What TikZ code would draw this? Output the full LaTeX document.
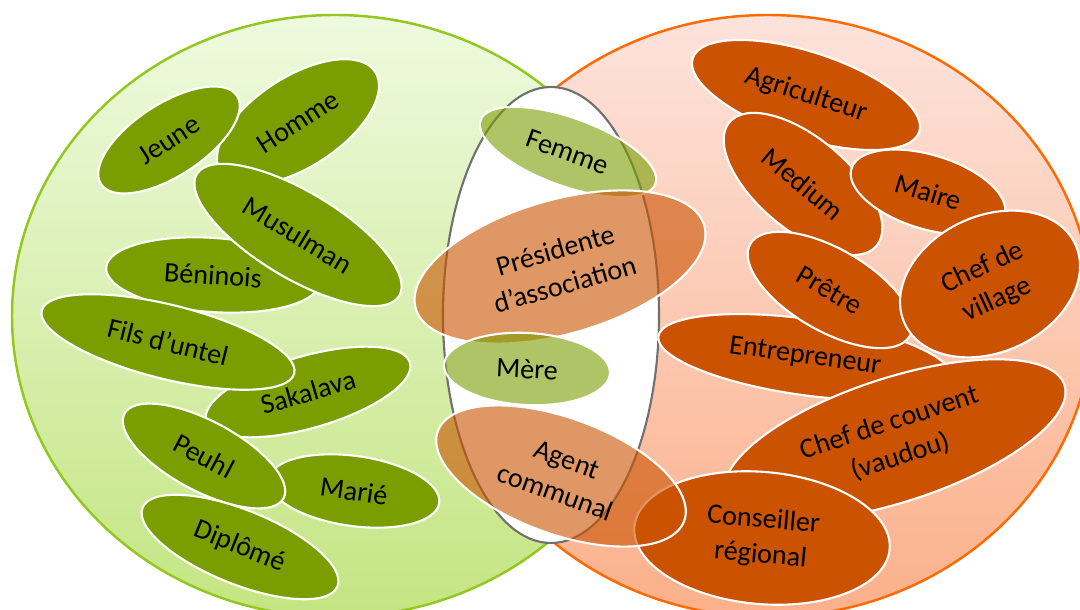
\documentclass[tikz,border=0pt]{standalone}
\usepackage{fontspec}
\setmainfont{Carlito}
\usetikzlibrary{shapes.geometric}
\definecolor{leaf}{HTML}{7A9E00}
\definecolor{rust}{HTML}{CA5200}
\definecolor{limeedge}{HTML}{92C81E}
\definecolor{limetop}{HTML}{EEFADF}
\definecolor{limebot}{HTML}{C4E582}
\definecolor{peachedge}{HTML}{FF6A00}
\definecolor{peachtop}{HTML}{FDE3DC}
\definecolor{peachbot}{HTML}{FBB08A}
\definecolor{midgrey}{HTML}{707070}

\begin{document}
\begin{tikzpicture}[
    x=0.01cm, y=-0.01cm,
    blob/.style 2 args={ellipse, draw=white, line width=0.6pt, inner sep=0pt, align=center,
        minimum width=#1*0.02cm, minimum height=#2*0.02cm, font=\fontsize{8}{10}\selectfont},
    gblob/.style 2 args={blob={#1}{#2}, fill=leaf},
    oblob/.style 2 args={blob={#1}{#2}, fill=rust},
    gmix/.style 2 args={blob={#1}{#2}, fill=leaf, fill opacity=0.6, text opacity=1},
    omix/.style 2 args={blob={#1}{#2}, fill=rust, fill opacity=0.6, text opacity=1}
]
\useasboundingbox (0,0) rectangle (1080,610);

% the two sets and their overlap
\path[draw=limeedge, line width=0.7pt, top color=limetop, bottom color=limebot]
    (335,316) ellipse [x radius=323, y radius=301];
\path[draw=peachedge, line width=0.7pt, top color=peachtop, bottom color=peachbot]
    (768,316) ellipse [x radius=325, y radius=301];
\path[draw=midgrey, line width=0.6pt, fill=white]
    (551,315) ellipse [x radius=108, y radius=228];

% left set
\node[gblob={92}{45}, rotate=33] (homme) at (298,122) {Homme};
\node[gblob={81}{36}, rotate=33] (jeune) at (169,140) {Jeune};
\node[gblob={107}{37}, rotate=-4] (beninois) at (213,275) {Béninois};
\node[gblob={118}{43}, rotate=-31] (musulman) at (298,235) {Musulman};
\node[gblob={106}{36}, rotate=16] (sakalava) at (308,392) {Sakalava};
\node[gblob={130}{37}, rotate=-14] (fils) at (168,342) {Fils d’untel};
\node[gblob={86}{35}, rotate=-8] (marie) at (354,491) {Marié};
\node[gblob={90}{35}, rotate=-28] (peuhl) at (204,456) {Peuhl};
\node[gblob={105}{37}, rotate=-22] (diplome) at (240,547) {Diplômé};

% right set
\node[oblob={119}{43}, rotate=-18] (agri) at (806,95) {Agriculteur};
\node[oblob={96}{46}, rotate=-40] (medium) at (803,184) {Medium};
\node[oblob={80}{37}, rotate=-17] (maire) at (928,192) {Maire};
\node[oblob={148}{38}, rotate=-8] (entrep) at (805,357) {Entrepreneur};
\node[oblob={92}{41}, rotate=-30] (pretre) at (830,290) {Prêtre};
\node[oblob={94}{68}, rotate=25] (village) at (990,284) {Chef de\\village};
\node[oblob={178}{62}, rotate=18] (couvent) at (895,440) {Chef de couvent\\(vaudou)};
\node[oblob={128}{66}, rotate=-5] (conseil) at (762,538) {Conseiller\\régional};

% overlap
\node[gmix={93}{34}, rotate=-20] (femme) at (568,152) {Femme};
\node[omix={150}{67}, rotate=16] (presid) at (560,267) {Présidente\\d’association};
\node[gmix={83}{36}, rotate=-3] (mere) at (527,369) {Mère};
\node[omix={131}{58}, rotate=-20] (agent) at (561,476) {Agent\\communal};

\end{tikzpicture}
\end{document}
